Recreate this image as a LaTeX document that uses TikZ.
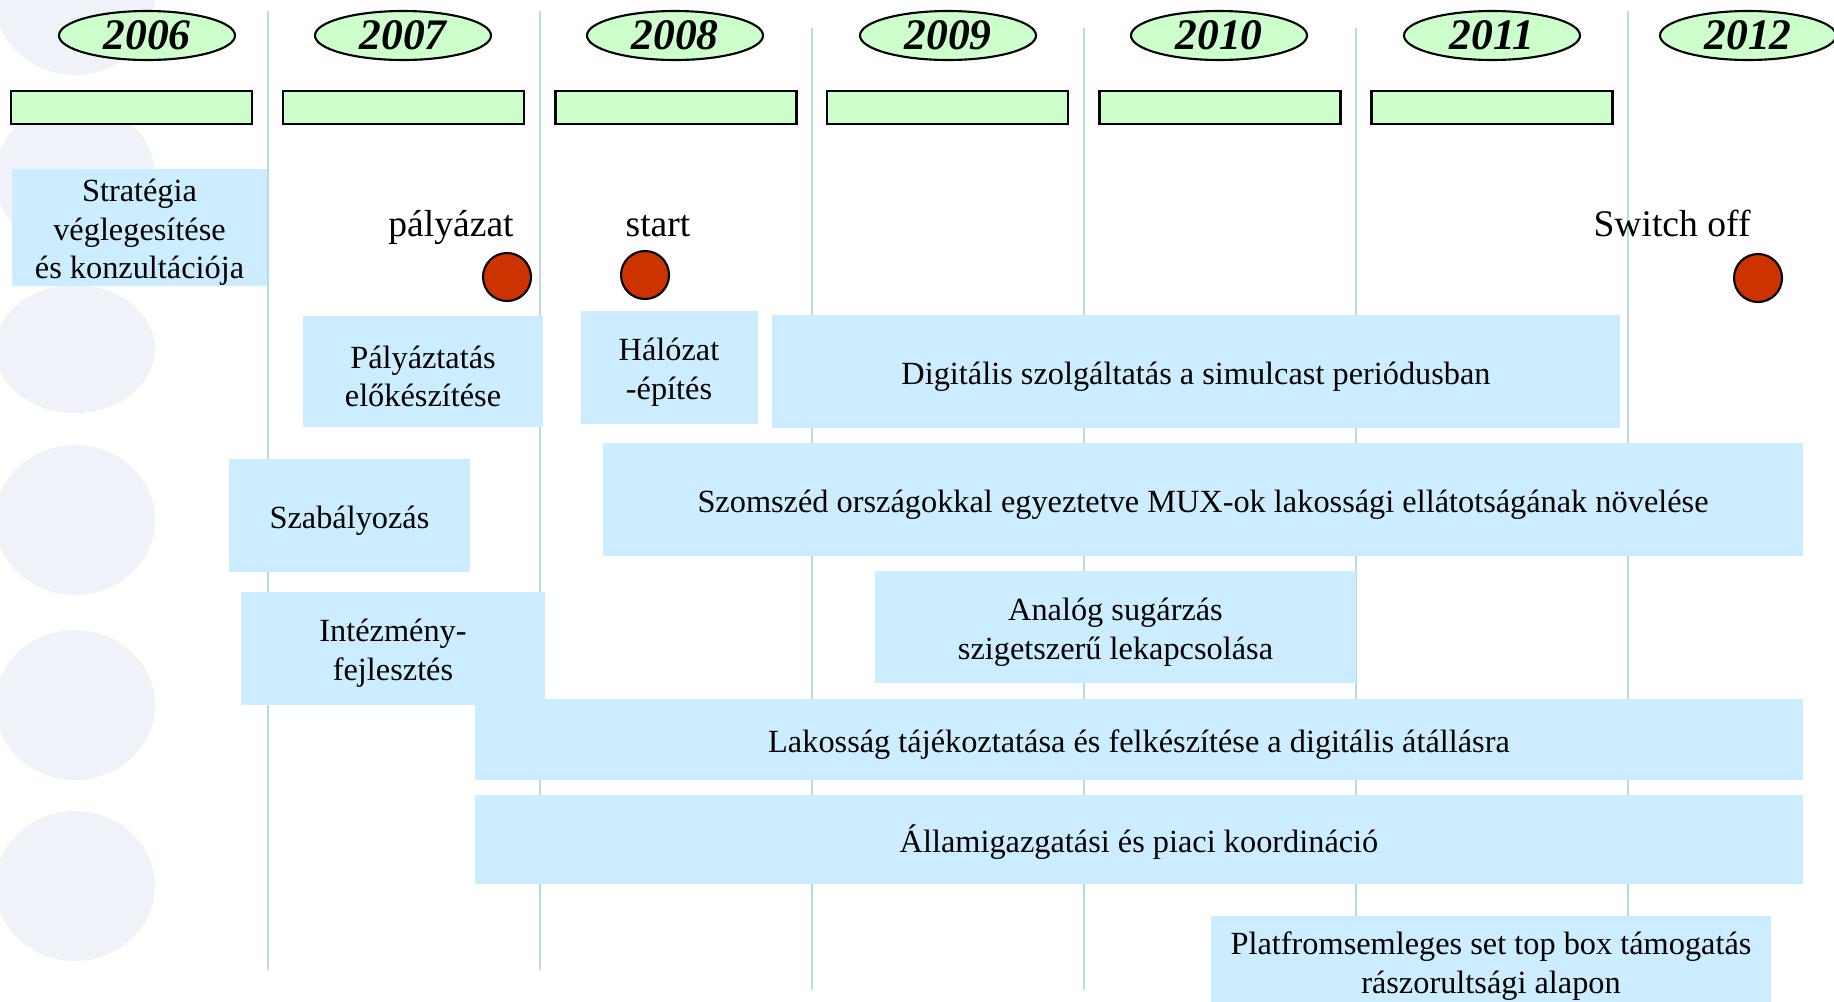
\documentclass[tikz,border=0pt]{standalone}
\usepackage{fontspec}
\setmainfont{Liberation Serif}
\usetikzlibrary{shapes.geometric}
\definecolor{yeargreen}{RGB}{204,255,204}
\definecolor{taskblue}{RGB}{204,236,255}
\definecolor{sepline}{RGB}{183,221,228}
\definecolor{dotred}{RGB}{204,51,0}
\definecolor{wmgrey}{RGB}{240,242,249}
\newcommand{\tpad}{\rule{0pt}{9.2pt}}

\begin{document}
\begin{tikzpicture}[
  year/.style={ellipse,draw,fill=yeargreen,line width=0.6pt,minimum width=1.76cm,minimum height=0.49cm,inner sep=0pt,font=\fontsize{12.4}{14}\selectfont\bfseries\itshape},
  bar/.style={rectangle,draw,fill=yeargreen,line width=0.6pt,minimum width=2.41cm,minimum height=0.33cm,inner sep=0pt},
  task/.style={rectangle,fill=taskblue,inner sep=0pt,align=center,font=\fontsize{9.2}{11}\selectfont},
  milestone/.style={anchor=base,inner sep=0pt,font=\fontsize{10.7}{12}\selectfont},
  dot/.style={circle,draw,fill=dotred,line width=0.6pt,minimum size=0.48cm,inner sep=0pt},
  sep/.style={draw=sepline,line width=0.8pt}]
\useasboundingbox (0,0) rectangle (18.34,-10.01);
\fill[wmgrey] (0.75,0) ellipse (0.8 and 0.75);
\fill[wmgrey] (0.75,-1.77) ellipse (0.8 and 0.75);
\fill[wmgrey] (0.75,-3.49) ellipse (0.8 and 0.64);
\fill[wmgrey] (0.75,-5.20) ellipse (0.8 and 0.75);
\fill[wmgrey] (0.75,-7.05) ellipse (0.8 and 0.75);
\fill[wmgrey] (0.75,-8.86) ellipse (0.8 and 0.75);
\draw[sep] (2.68,-0.11) -- (2.68,-9.70);
\draw[sep] (5.40,-0.11) -- (5.40,-9.70);
\draw[sep] (8.12,-0.28) -- (8.12,-9.90);
\draw[sep] (10.84,-0.28) -- (10.84,-9.90);
\draw[sep] (13.56,-0.28) -- (13.56,-9.90);
\draw[sep] (16.28,-0.11) -- (16.28,-9.90);
\node(y2006)[year] at (1.47,-0.355){2006};
\node(y2007)[year] at (4.03,-0.355){2007};
\node(y2008)[year] at (6.75,-0.355){2008};
\node(y2009)[year] at (9.48,-0.355){2009};
\node(y2010)[year] at (12.19,-0.355){2010};
\node(y2011)[year] at (14.92,-0.355){2011};
\node(y2012)[year] at (17.48,-0.355){2012};
\node(bar2006)[bar] at (1.315,-1.075){};
\node(bar2007)[bar] at (4.035,-1.075){};
\node(bar2008)[bar] at (6.76,-1.075){};
\node(bar2009)[bar] at (9.475,-1.075){};
\node(bar2010)[bar] at (12.20,-1.075){};
\node(bar2011)[bar] at (14.92,-1.075){};
\node(palyazat)[milestone] at (4.51,-2.36){pályázat};
\node(start)[milestone] at (6.58,-2.36){start};
\node(switchoff)[milestone] at (16.72,-2.36){Switch off};
\node(dpalyazat)[dot] at (5.07,-2.77){};
\node(dstart)[dot] at (6.45,-2.75){};
\node(dswitchoff)[dot] at (17.58,-2.78){};
\node(strategia)[task,minimum width=2.55cm,minimum height=1.11cm] at (1.395,-2.275){\tpad Stratégia\\véglegesítése\\és konzultációja};
\node(palyaztatas)[task,minimum width=2.40cm,minimum height=1.11cm] at (4.23,-3.715){\tpad Pályáztatás\\előkészítése};
\node(halozat)[task,minimum width=1.77cm,minimum height=1.13cm] at (6.69,-3.675){\tpad Hálózat\\-építés};
\node(simulcast)[task,minimum width=8.48cm,minimum height=1.13cm] at (11.96,-3.715){\tpad Digitális szolgáltatás a simulcast periódusban};
\node(szabalyozas)[task,minimum width=2.41cm,minimum height=1.13cm] at (3.495,-5.155){\tpad Szabályozás};
\node(szomszed)[task,minimum width=12.00cm,minimum height=1.13cm] at (12.03,-4.995){\tpad Szomszéd országokkal egyeztetve MUX-ok lakossági ellátotságának növelése};
\node(intezmeny)[task,minimum width=3.04cm,minimum height=1.13cm] at (3.93,-6.485){\tpad Intézmény-\\fejlesztés};
\node(analog)[task,minimum width=4.81cm,minimum height=1.12cm] at (11.155,-6.27){\tpad Analóg sugárzás\\szigetszerű lekapcsolása};
\node(lakossag)[task,minimum width=13.28cm,minimum height=0.81cm] at (11.39,-7.395){\tpad Lakosság tájékoztatása és felkészítése a digitális átállásra};
\node(allam)[task,minimum width=13.28cm,minimum height=0.89cm] at (11.39,-8.395){\tpad Államigazgatási és piaci koordináció};
\node(settopbox)[task,minimum width=5.60cm,minimum height=0.91cm] at (14.91,-9.615){\tpad Platfromsemleges set top box támogatás\\rászorultsági alapon};
\end{tikzpicture}
\end{document}
